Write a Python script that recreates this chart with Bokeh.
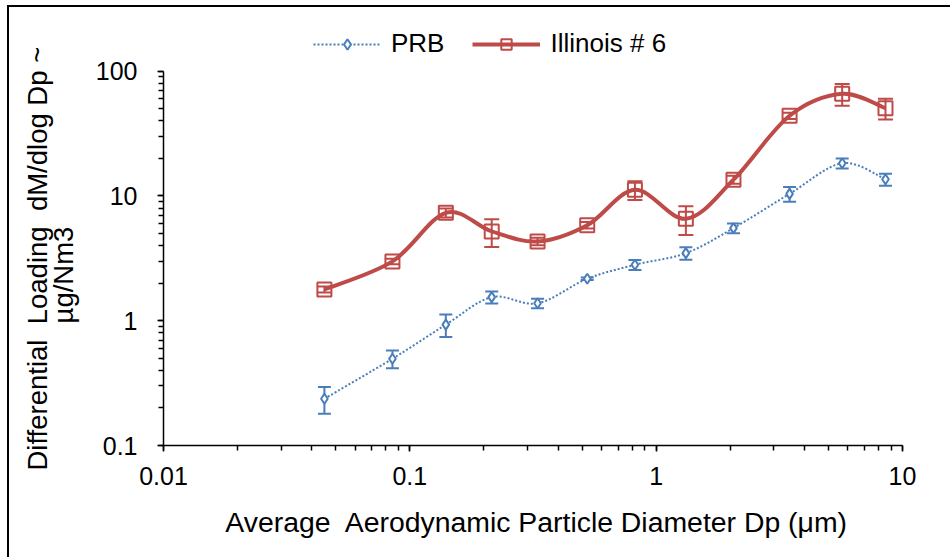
import numpy as np
from bokeh.plotting import figure
from bokeh.models import (ColumnDataSource, Whisker, TeeHead, Legend, LegendItem,
                          LogTicker, Title)
from bokeh.embed import file_html
from bokeh.resources import INLINE

# ---- data ----
diameter = [0.045, 0.085, 0.14, 0.215, 0.33, 0.525, 0.82, 1.32, 2.06, 3.48, 5.69, 8.53]
prb = [0.237, 0.496, 0.93, 1.545, 1.38, 2.17, 2.81, 3.48, 5.52, 10.4, 18.3, 13.6]
prb_err = [0.057, 0.08, 0.19, 0.17, 0.12, 0.05, 0.26, 0.4, 0.5, 1.4, 1.7, 1.5]
illinois = [1.78, 2.99, 7.33, 5.20, 4.32, 5.83, 11.2, 6.56, 13.5, 43.9, 65.9, 50.5]
illinois_err = [0.1, 0.15, 0.6, 1.3, 0.3, 0.35, 1.9, 1.7, 1.0, 2.5, 13.0, 9.5]
series_names = ["PRB", "Illinois # 6"]
x_tick_labels = {0.01: "0.01", 0.1: "0.1", 1: "1", 10: "10"}
y_tick_labels = {0.1: "0.1", 1: "1", 10: "10", 100: "100"}
NB = "\u00a0"
x_title = "Average" + NB + " Aerodynamic Particle Diameter Dp (\u03bcm)"
y_title_line1 = "Differential" + NB + " Loading" + NB + " dM/dlog Dp ~"
y_title_line2 = "\u00b5g/Nm3"

BLUE = "#4A7EBB"
RED = "#BE4B48"
FONT = "Liberation Sans"


def smooth_segments(xs, ys):
    """Catmull-Rom style Bezier control points in log-log space (Excel smoothed line)."""
    lx = np.log10(np.asarray(xs, float))
    ly = np.log10(np.asarray(ys, float))
    n = len(lx)
    d = dict(x0=[], y0=[], x1=[], y1=[], cx0=[], cy0=[], cx1=[], cy1=[])
    for i in range(n - 1):
        im = max(i - 1, 0)
        ip = min(i + 2, n - 1)
        c0x = lx[i] + (lx[i + 1] - lx[im]) / 6
        c0y = ly[i] + (ly[i + 1] - ly[im]) / 6
        c1x = lx[i + 1] - (lx[ip] - lx[i]) / 6
        c1y = ly[i + 1] - (ly[ip] - ly[i]) / 6
        d["x0"].append(10 ** lx[i]); d["y0"].append(10 ** ly[i])
        d["x1"].append(10 ** lx[i + 1]); d["y1"].append(10 ** ly[i + 1])
        d["cx0"].append(10 ** c0x); d["cy0"].append(10 ** c0y)
        d["cx1"].append(10 ** c1x); d["cy1"].append(10 ** c1y)
    return ColumnDataSource(d)


# layout: frame extended upward so the legend sits inside it; the y axis is
# bounded to 0.1..100 (decade = 124.8 px, top of axis 50.7 px below frame top)
Y_MIN, Y_MAX = 0.1, 100
y_top = Y_MAX * 10 ** (50.7 / 124.8)

W, H = 943, 552
p = figure(width=W, height=H, x_axis_type="log", y_axis_type="log",
           x_range=(0.01, 10), y_range=(Y_MIN, y_top),
           output_backend="svg", toolbar_location=None,
           min_border_left=154, min_border_right=50,
           min_border_top=13, min_border_bottom=114)
p.styles = {"margin-left": "7px", "margin-top": "5px",
            "border-left": "2px solid black", "border-top": "2px solid black"}
p.outline_line_color = None
p.grid.visible = False
p.background_fill_color = "white"
p.border_fill_color = "white"

for ax in (p.xaxis[0], p.yaxis[0]):
    ax.axis_line_color = "black"
    ax.axis_line_width = 1.5
    ax.major_tick_line_color = "black"
    ax.minor_tick_line_color = "black"
    ax.major_tick_line_width = 1.5
    ax.minor_tick_line_width = 1.5
    ax.major_tick_in = 0
    ax.major_tick_out = 6
    ax.minor_tick_in = 0
    ax.minor_tick_out = 5
    ax.major_label_text_font = FONT
    ax.major_label_text_font_size = "25px"
    ax.major_label_text_color = "black"
    ax.axis_label_text_font = FONT
    ax.axis_label_text_font_size = "28px"
    ax.axis_label_text_font_style = "normal"
    ax.axis_label_text_color = "black"
    ax.ticker = LogTicker(num_minor_ticks=10)

p.yaxis[0].bounds = (Y_MIN, Y_MAX)
p.xaxis[0].major_label_overrides = x_tick_labels
p.yaxis[0].major_label_overrides = y_tick_labels
p.xaxis[0].major_label_standoff = 15
p.yaxis[0].major_label_standoff = 20
p.xaxis[0].axis_label = NB + x_title
p.xaxis[0].axis_label_text_font_size = "28.4px"
p.xaxis[0].axis_label_standoff = 18
# second line of the y title sits next to the ticks (trailing spaces move it down)
p.yaxis[0].axis_label = y_title_line2 + NB * 11
p.yaxis[0].axis_label_text_font_size = "27.5px"
p.yaxis[0].axis_label_standoff = 14

# first line of the y title: a side title, anchored near the bottom of the frame
p.add_layout(Title(text=y_title_line1, align="left", offset=-25,
                   vertical_align="bottom", standoff=-16,
                   text_font=FONT, text_font_size="27.5px",
                   text_font_style="normal", text_color="black"), "left")

# ---- PRB (blue, dotted, diamonds) ----
prb_src = ColumnDataSource(dict(
    x=diameter, y=prb,
    upper=[v + e for v, e in zip(prb, prb_err)],
    lower=[v - e for v, e in zip(prb, prb_err)]))
prb_line = p.bezier(source=smooth_segments(diameter, prb), line_color=BLUE, line_width=2,
                    line_dash="2 2")

# ---- Illinois (red, thick, squares) ----
ill_src = ColumnDataSource(dict(
    x=diameter, y=illinois,
    upper=[v + e for v, e in zip(illinois, illinois_err)],
    lower=[v - e for v, e in zip(illinois, illinois_err)]))
ill_line = p.bezier(source=smooth_segments(diameter, illinois), line_color=RED, line_width=4)

for src, col, cap in ((prb_src, BLUE, 13), (ill_src, RED, 15)):
    w = Whisker(source=src, base="x", upper="upper", lower="lower",
                dimension="height", line_color=col, line_width=2,
                upper_head=TeeHead(size=cap, line_color=col, line_width=2),
                lower_head=TeeHead(size=cap, line_color=col, line_width=2))
    p.add_layout(w)

prb_pts = p.scatter("x", "y", source=prb_src, marker="diamond", size=10,
                    line_color=BLUE, line_width=2, fill_color="white")
ill_pts = p.scatter("x", "y", source=ill_src, marker="square", size=14,
                    line_color=RED, line_width=2, fill_alpha=0)

legend = Legend(items=[
    LegendItem(label=series_names[0], renderers=[prb_line, prb_pts]),
    LegendItem(label=series_names[1], renderers=[ill_line, ill_pts]),
], orientation="horizontal", location=(150, 386), glyph_width=68, glyph_height=26,
    label_text_font=FONT, label_text_font_size="26px", label_text_color="black",
    padding=0, margin=0, spacing=28, label_standoff=10,
    border_line_alpha=0, background_fill_alpha=0)
p.add_layout(legend)

open("out.html", "w").write(file_html(p, INLINE))
